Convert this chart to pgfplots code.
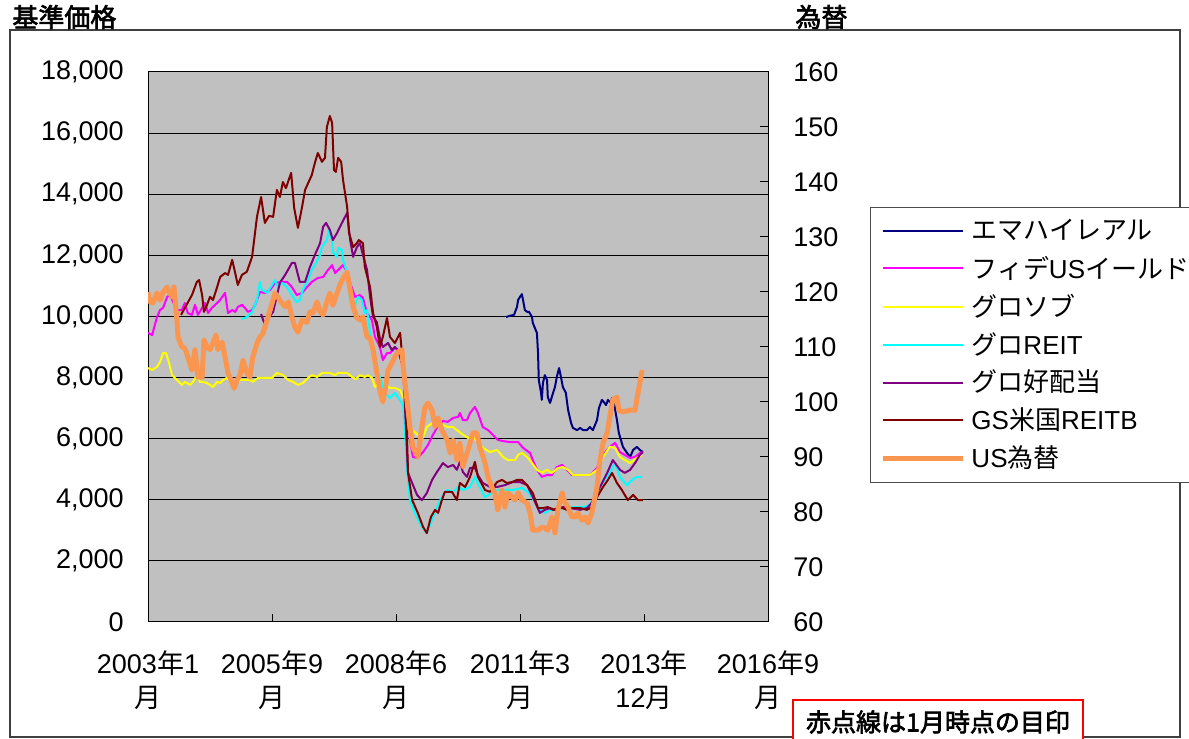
\documentclass[border=0pt]{standalone}
\usepackage{fontspec}
\setmainfont{Liberation Sans}
\newfontfamily\jp{Noto Sans CJK JP}
\newfontfamily\jpb[FakeBold=2.5]{Noto Sans CJK JP}
\usepackage{pgfplots}
\pgfplotsset{compat=1.18}
\definecolor{bggray}{RGB}{192,192,192}
\definecolor{cnavy}{RGB}{0,0,128}
\definecolor{cmag}{RGB}{255,0,255}
\definecolor{cyel}{RGB}{255,255,0}
\definecolor{ccyan}{RGB}{0,255,255}
\definecolor{cpurp}{RGB}{128,0,128}
\definecolor{cdred}{RGB}{128,0,0}
\definecolor{corange}{RGB}{250,150,80}
\begin{document}
\begin{tikzpicture}
\useasboundingbox (0,0) rectangle (594.5pt,369.5pt);
\fill[white] (0,0) rectangle (594.5pt,369.5pt);
\draw[black!75, line width=0.6pt] (5pt,1pt) rectangle (590pt,354.5pt);
\node[font=\jpb\fontsize{13}{13}\selectfont, anchor=west, inner sep=0pt] at (6pt,361pt) {基準価格};
\node[font=\jpb\fontsize{13}{13}\selectfont, anchor=west, inner sep=0pt] at (397.5pt,361pt) {為替};
\draw[red, line width=0.8pt, fill=white] (396.5pt,-10pt) rectangle (541.5pt,19.5pt);
\node[font=\jpb\fontsize{12.5}{12.5}\selectfont, inner sep=0pt] at (469pt,8.5pt) {赤点線は1月時点の目印};

\begin{axis}[
  at={(74pt,58.5pt)}, anchor=south west,
  scale only axis, width=310pt, height=275pt,
  xmin=0, xmax=165, ymin=0, ymax=18000,
  scaled y ticks=false, scaled x ticks=false,
  xtick={0,33,66,99,132,165},
  xticklabels={{2003{\jp 年}1\\{\jp 月}},{2005{\jp 年}9\\{\jp 月}},{2008{\jp 年}6\\{\jp 月}},{2011{\jp 年}3\\{\jp 月}},{2013{\jp 年}\\12{\jp 月}},{2016{\jp 年}9\\{\jp 月}}},
  ytick={0,2000,4000,6000,8000,10000,12000,14000,16000,18000},
  yticklabels={0,{2,000},{4,000},{6,000},{8,000},{10,000},{12,000},{14,000},{16,000},{18,000}},
  axis background/.style={fill=bggray},
  ymajorgrids, major grid style={black, line width=0.5pt},
  xtick pos=bottom, ytick pos=left,
  tick align=inside, major tick length=4pt,
  axis line style={black, line width=0.5pt},
  tick style={black, line width=0.5pt},
  ticklabel style={font=\fontsize{13.5}{17}\selectfont},
  xticklabel style={align=center, inner sep=0pt, anchor=north, yshift=-14pt},
  yticklabel style={inner sep=0pt, anchor=east, xshift=-12pt},
  legend style={at={(1.1645,0.7545)}, anchor=north west, draw=black!70, line width=0.5pt, fill=white,
    font=\fontsize{13}{13}\selectfont, inner xsep=5pt, inner ysep=6pt, row sep=6.5pt,
    nodes={inner sep=0pt}, /tikz/every odd column/.append style={column sep=3pt}},
  legend cell align=left,
  legend image code/.code={\draw[#1] (0pt,0pt) -- (40pt,0pt);},
  every axis plot/.append style={line join=round},
]
\addplot[cnavy, line width=1pt] coordinates {
(95.3,9980)(96.3,10020)(97.4,10050)(98.2,10310)(98.5,10540)(99.0,10640)(99.5,10730)(99.8,10540)(100.3,10210)(100.9,10150)(101.4,10150)(102.2,9980)(102.4,9790)(103.5,9460)(103.8,8800)(104.0,7920)(104.6,7500)(104.8,7270)(105.1,7820)(105.6,8080)(106.2,7920)(106.4,7360)(107.0,7170)(107.8,7500)(108.3,7690)(108.8,8020)(109.4,8310)(109.9,8020)(110.4,7690)(111.2,7500)(111.8,6940)(112.6,6510)(113.1,6350)(114.2,6280)(115.0,6350)(115.8,6280)(116.8,6280)(117.6,6380)(118.4,6280)(119.5,6610)(120.0,7000)(120.8,7270)(121.3,7200)(121.9,7100)(122.4,7270)(123.2,7170)(123.5,7330)(124.0,7170)(124.8,6610)(125.3,6190)(126.4,5730)(127.5,5530)(128.3,5400)(129.1,5630)(130.1,5730)(130.9,5630)(131.7,5560)
};
\addlegendentry{{\jp エマハイレアル}}
\addplot[cmag, line width=1pt] coordinates {
(0,9460)(1.1,9390)(2.4,9980)(3.2,10210)(4.0,10280)(5.1,10640)(5.9,10700)(6.7,10470)(7.7,10210)(9.0,10210)(9.8,10440)(10.6,10110)(11.7,10050)(12.5,10380)(13.3,10050)(14.4,10280)(15.2,10440)(16.0,10110)(17.0,10280)(18.4,10440)(19.2,10540)(20.5,10770)(21.3,10110)(22.4,10210)(23.2,10150)(23.9,10310)(25.0,10380)(25.8,10280)(26.6,10150)(27.7,10210)(28.5,10380)(29.8,10800)(31.1,10770)(32.5,10870)(33.8,11100)(35.7,11130)(37.0,11130)(38.3,10960)(39.6,10700)(41.0,10770)(42.3,10960)(43.6,11130)(45.2,11260)(46.6,11290)(47.9,11520)(49.0,11680)(49.8,11420)(50.6,11520)(51.9,11680)(53.0,11460)(53.8,11100)(55.1,10640)(56.4,10700)(57.2,10600)(58.3,10110)(59.6,9880)(60.4,9330)(61.7,9000)(62.5,8570)(63.6,8800)(64.4,8800)(65.7,8970)(66.5,8900)(67.9,8350)(68.9,7270)(69.7,5960)(70.5,5400)(71.8,5370)(73.2,5560)(74.5,5790)(75.8,6120)(77.2,6420)(78.5,6580)(79.8,6550)(81.2,6680)(82.5,6710)(83.0,6840)(83.8,6610)(84.9,6610)(85.7,6840)(87.0,7040)(87.8,6840)(89.1,6380)(90.5,6280)(91.8,6120)(93.1,5960)(94.5,5920)(96.3,5890)(98.5,5890)(99.8,5700)(101.7,5530)(102.4,5300)(103.5,4980)(104.8,4750)(106.2,4810)(107.5,4810)(108.8,5070)(110.2,5140)(111.5,4980)(112.8,4810)(114.2,4810)(115.8,4810)(117.6,4810)(119.5,5040)(121.1,5470)(122.9,5730)(124.3,5860)(125.6,5560)(126.9,5470)(128.3,5370)(129.6,5400)(130.9,5530)(131.7,5560)
};
\addlegendentry{{\jp フィデ}US{\jp イールド}}
\addplot[cyel, line width=1pt] coordinates {
(0,8310)(1.1,8250)(2.4,8350)(3.2,8510)(4.0,8800)(4.8,8800)(5.6,8480)(6.4,8080)(7.7,7920)(9.0,7760)(9.8,7860)(11.2,7760)(12.0,7860)(13.0,8080)(13.8,7860)(14.6,7860)(15.7,7820)(16.5,7760)(17.3,7690)(18.4,7860)(19.2,7820)(20.0,7920)(21.0,7990)(22.4,7820)(23.7,7860)(24.5,7920)(25.8,7920)(27.1,7920)(27.9,7860)(29.3,7990)(31.1,7990)(33.0,7990)(34.3,8150)(35.9,8080)(37.3,7920)(38.6,7860)(39.9,7760)(41.2,7820)(42.6,7990)(43.6,8080)(45.0,8020)(46.3,8150)(48.4,8150)(49.8,8080)(50.6,8150)(53.0,8150)(54.3,8020)(55.3,7950)(56.4,8080)(57.7,8020)(58.5,8080)(59.6,7990)(60.4,7690)(61.7,7820)(63.1,7760)(64.4,7660)(65.7,7660)(67.1,7590)(67.9,7360)(68.4,7270)(69.2,6380)(70.3,6280)(71.6,6150)(72.9,5960)(74.2,6380)(75.6,6510)(77.2,6550)(78.5,6450)(79.8,6380)(81.2,6380)(82.2,6280)(83.6,6150)(85.2,6020)(86.5,6060)(87.8,5890)(89.1,5700)(91.0,5560)(92.9,5630)(94.5,5400)(95.8,5300)(97.7,5300)(98.5,5470)(99.5,5530)(100.9,5400)(102.2,5200)(103.5,4980)(104.8,4880)(106.2,4980)(107.5,4880)(109.1,5040)(110.4,5070)(111.8,4980)(113.1,4810)(115.0,4810)(117.6,4810)(119.5,4980)(121.1,5400)(122.9,5730)(124.3,5700)(125.6,5400)(126.9,5300)(128.3,5200)(130.1,5370)(131.5,5470)
};
\addlegendentry{{\jp グロソブ}}
\addplot[ccyan, line width=1pt] coordinates {
(25.0,9920)(26.3,9980)(27.7,10150)(29.0,10540)(29.8,11130)(30.3,10870)(31.7,10770)(32.5,10930)(33.8,11190)(34.6,10960)(35.7,11100)(37.0,10960)(38.3,10700)(39.6,10470)(40.4,10540)(41.2,10870)(42.6,11190)(43.6,11520)(44.4,11680)(45.8,12010)(46.3,12270)(47.6,12500)(48.2,12830)(49.0,12500)(49.2,12110)(50.3,11950)(50.6,12240)(51.6,12180)(51.9,11850)(53.0,11420)(53.2,11100)(53.8,10540)(54.6,10210)(55.9,10640)(56.9,10540)(57.7,10110)(58.3,10210)(59.6,9000)(60.9,8250)(62.3,7820)(63.1,7500)(64.4,7330)(65.7,7500)(66.5,7360)(67.9,7100)(68.4,6190)(68.9,5070)(69.7,3990)(71.0,3570)(72.9,3110)(74.2,2910)(75.6,3340)(76.9,3760)(78.2,4090)(79.6,4320)(81.2,4260)(82.5,4420)(83.8,4320)(85.7,4420)(87.0,4750)(88.3,4420)(89.7,4090)(91.5,4220)(93.1,4320)(95.0,4320)(97.1,4320)(99.5,4390)(101.1,4260)(103.0,3930)(104.3,3670)(105.6,3570)(107.0,3670)(108.8,3670)(111.5,3760)(114.2,3760)(115.8,3760)(117.6,3830)(119.5,4220)(121.1,4580)(122.9,4880)(124.3,5200)(125.6,4750)(127.5,4480)(128.8,4650)(130.1,4750)(131.5,4750)
};
\addlegendentry{{\jp グロ}REIT}
\addplot[cpurp, line width=1pt] coordinates {
(30.1,10080)(30.9,9790)(31.9,9950)(32.7,10050)(33.3,10150)(35.1,11100)(36.5,11360)(38.3,11750)(39.1,11750)(40.4,11130)(41.8,11130)(43.1,11620)(44.4,12010)(45.8,12400)(46.6,12930)(47.4,13060)(48.4,12830)(49.2,12500)(50.3,12730)(51.6,13060)(53.0,13390)(53.8,12500)(54.6,11950)(55.6,12270)(56.4,12400)(57.2,12010)(58.3,11520)(59.1,10640)(59.9,9980)(60.9,9820)(61.7,9300)(62.5,9000)(63.9,9130)(64.9,8900)(65.7,9000)(66.5,8900)(67.9,8350)(68.7,6190)(69.2,4880)(70.3,4550)(71.6,4160)(72.9,3990)(74.2,4220)(75.6,4650)(76.9,4910)(78.5,5200)(79.8,5070)(81.2,5140)(82.2,4980)(83.0,5240)(83.8,4910)(84.9,4750)(85.7,5040)(87.0,5040)(87.8,4810)(89.1,4550)(91.0,4420)(92.9,4420)(95.0,4480)(97.1,4580)(99.0,4580)(100.9,4480)(102.4,4090)(104.3,3570)(105.6,3670)(107.0,3730)(108.3,3670)(110.4,3760)(112.3,3730)(115.0,3670)(116.8,3730)(118.1,3900)(120.3,4420)(122.2,4880)(123.7,5300)(125.6,4980)(126.9,4880)(128.3,4980)(129.6,5200)(130.9,5470)(131.7,5560)
};
\addlegendentry{{\jp グロ好配当}}
\addplot[cdred, line width=1pt] coordinates {
(8.8,10050)(9.8,10280)(11.7,10700)(13.0,11130)(13.6,11190)(14.4,10700)(14.9,10150)(15.7,10380)(16.5,10640)(17.3,10540)(18.4,10960)(19.2,11290)(20.5,11420)(21.3,11360)(22.4,11850)(22.9,11590)(23.9,11030)(25.0,11360)(26.3,11460)(27.7,11950)(29.0,13260)(30.1,13910)(31.1,13060)(32.2,13290)(33.3,13260)(34.3,14140)(35.1,13910)(35.9,14400)(36.7,14200)(38.1,14700)(38.9,13550)(39.9,12900)(41.0,13580)(41.8,14140)(43.6,14630)(44.4,15020)(45.2,15350)(46.3,15060)(47.1,15190)(47.6,16200)(48.4,16560)(49.0,16330)(49.5,14790)(50.0,14730)(50.6,15190)(51.4,15060)(51.9,14470)(53.0,13580)(53.5,12730)(54.6,12270)(55.6,12400)(56.1,12500)(57.2,12400)(57.7,11620)(59.1,10960)(59.9,10110)(60.9,9660)(61.7,9000)(62.5,9330)(63.6,9950)(64.4,9330)(65.7,9130)(67.1,9460)(67.9,8350)(68.9,6190)(69.2,4880)(70.3,3990)(71.8,3570)(73.2,3110)(74.2,2910)(75.3,3440)(76.4,3670)(77.2,3570)(78.2,3990)(79.0,4260)(80.9,4260)(82.2,3990)(83.0,4550)(84.4,4420)(85.7,4750)(87.0,5240)(87.8,4750)(89.7,4320)(91.0,4260)(92.9,4580)(94.2,4650)(95.5,4550)(96.9,4580)(98.2,4650)(99.5,4650)(100.9,4480)(102.4,4220)(103.8,3730)(105.1,3730)(106.4,3760)(107.8,3670)(109.6,3760)(111.5,3670)(113.1,3730)(115.0,3730)(116.8,3670)(118.1,3760)(119.5,4090)(121.1,4420)(122.4,4650)(123.5,4880)(124.8,4550)(126.1,4320)(127.7,3990)(129.1,4160)(130.4,3990)(131.7,3990)
};
\addlegendentry{GS{\jp 米国}REITB}
\addlegendimage{corange, line width=2.5pt}
\addlegendentry{US{\jp 為替}}
\end{axis}

\begin{axis}[
  at={(74pt,58.5pt)}, anchor=south west,
  scale only axis, width=310pt, height=275pt,
  xmin=0, xmax=165, ymin=60, ymax=160,
  axis x line=none, axis y line*=right,
  ytick={60,70,80,90,100,110,120,130,140,150,160},
  yticklabels={60,70,80,90,100,110,120,130,140,150,160},
  tick align=inside, major tick length=4pt,
  axis line style={black, line width=0.5pt},
  tick style={black, line width=0.5pt},
  ticklabel style={font=\fontsize{13.5}{17}\selectfont},
  yticklabel style={inner sep=0pt, anchor=west, xshift=12.5pt},
  every axis plot/.append style={line join=round},
]
\addplot[corange, line width=2.5pt] coordinates {
(0,120.0)(0.5,118.2)(1.3,118.0)(2.4,119.8)(3.2,118.5)(4.0,120.0)(5.1,120.9)(5.6,120.0)(6.4,119.1)(6.9,120.9)(7.7,114.9)(8.0,111.8)(9.0,110.0)(9.8,109.8)(10.6,108.2)(11.7,105.8)(12.5,109.5)(13.3,104.5)(14.4,104.5)(14.9,111.3)(15.7,110.0)(16.5,109.5)(17.3,110.7)(18.1,112.2)(18.6,109.5)(19.7,110.9)(20.5,108.2)(21.3,105.3)(22.4,103.5)(22.9,102.5)(23.7,104.0)(24.5,104.9)(25.3,107.6)(26.3,105.3)(27.1,104.5)(27.9,108.2)(29.0,110.7)(29.8,111.8)(30.6,112.5)(31.7,114.9)(32.5,116.7)(33.8,119.8)(35.1,118.5)(36.5,117.3)(37.3,118.2)(38.3,115.5)(39.1,113.6)(39.9,112.7)(41.0,114.9)(42.3,114.5)(43.1,116.4)(43.9,116.2)(45.0,118.2)(45.8,116.4)(46.6,115.8)(47.6,118.2)(48.4,119.8)(49.2,117.6)(50.3,119.8)(51.1,121.3)(51.9,122.5)(53.0,123.6)(53.8,120.4)(54.6,117.3)(55.6,115.3)(56.4,114.9)(57.2,115.5)(58.3,111.8)(59.1,111.6)(59.9,109.5)(60.9,105.3)(61.7,102.2)(62.5,100.0)(63.1,102.2)(63.9,105.8)(64.9,107.1)(65.7,108.2)(66.5,109.1)(67.6,109.5)(67.9,106.4)(68.9,100.4)(69.7,95.5)(70.5,91.8)(71.8,90.0)(72.9,95.5)(73.7,99.1)(74.5,99.8)(75.6,98.5)(76.4,95.5)(77.2,97.1)(78.2,94.9)(79.6,93.1)(80.4,90.7)(81.2,93.1)(82.2,89.5)(83.0,92.5)(83.8,88.2)(84.9,90.7)(85.7,92.5)(86.5,94.4)(87.5,94.4)(88.3,91.8)(89.7,88.9)(90.5,86.4)(91.5,84.5)(92.3,83.5)(93.1,80.4)(94.2,84.0)(95.0,80.9)(95.8,83.5)(96.9,82.7)(97.7,82.2)(98.5,83.5)(99.5,82.2)(100.9,81.6)(101.7,79.8)(102.4,76.7)(103.8,76.7)(105.1,77.3)(106.4,76.7)(107.5,79.1)(108.3,76.2)(109.1,80.4)(110.2,83.5)(111.0,81.6)(111.8,80.9)(112.8,79.1)(113.6,79.1)(114.4,79.8)(115.5,78.5)(116.3,79.1)(117.1,78.0)(118.1,79.8)(119.5,84.5)(120.3,89.5)(121.1,92.5)(122.2,94.4)(122.9,97.3)(123.7,100.4)(124.8,100.9)(125.3,98.5)(126.4,98.2)(128.3,98.5)(129.6,98.5)(130.4,101.6)(131.5,105.8)
};
\end{axis}
\end{tikzpicture}
\end{document}
